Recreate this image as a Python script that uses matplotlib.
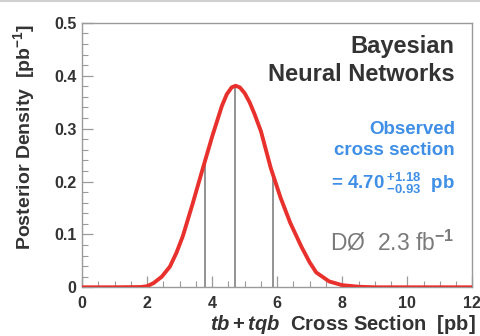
import numpy as np
import matplotlib
matplotlib.use("Agg")
import matplotlib.pyplot as plt
from matplotlib.lines import Line2D
from matplotlib.ticker import MultipleLocator, FixedLocator, FixedFormatter

plt.rcParams["font.family"] = ["Liberation Sans", "DejaVu Sans"]
plt.rcParams["mathtext.fontset"] = "custom"
plt.rcParams["mathtext.rm"] = "Liberation Sans:bold"
plt.rcParams["mathtext.bf"] = "Liberation Sans:bold"
plt.rcParams["mathtext.it"] = "Liberation Sans:italic:bold"

# Posterior density of the tb+tqb cross section
xsec = [0.0, 1.0, 1.8, 2.0, 2.2, 2.45, 2.7, 2.9, 3.1, 3.4, 3.7, 4.0, 4.3,
        4.45, 4.6, 4.72, 4.85, 5.0, 5.15, 5.3, 5.5, 5.8, 6.1, 6.4, 6.75,
        7.0, 7.2, 7.6, 8.0, 8.5, 9.0, 10.0, 12.0]
density = [0.0, 0.0, 0.0005, 0.002, 0.008, 0.02, 0.039, 0.065, 0.097,
           0.158, 0.222, 0.285, 0.343, 0.365, 0.378, 0.381, 0.378, 0.367,
           0.350, 0.328, 0.295, 0.226, 0.17, 0.122, 0.076, 0.047, 0.028,
           0.011, 0.004, 0.001, 0.0, 0.0, 0.0]

# Measured value and interval edges
central = 4.70
err_up = 1.18
err_down = 0.93
markers = [central - err_down, central, central + err_up]

x_ticks = [0, 2, 4, 6, 8, 10, 12]
y_ticks = [0, 0.1, 0.2, 0.3, 0.4, 0.5]
y_tick_labels = ["0", "0.1", "0.2", "0.3", "0.4", "0.5"]

fig = plt.figure(figsize=(4.8, 3.36), dpi=100)
ax = fig.add_axes([0.171, 0.145, 0.813, 0.787])

# thin frame line along the top edge of the figure
fig.add_artist(Line2D([0, 1], [0.996, 0.996], transform=fig.transFigure,
                      color="#d0d0d0", lw=1.5))

ax.plot(xsec, density, color="#e8312c", lw=2.8, solid_capstyle="round",
        solid_joinstyle="round", zorder=3)
for m in markers:
    ax.plot([m, m], [0, np.interp(m, xsec, density)], color="#8a8a8a",
            lw=1.3, zorder=2)

ax.set_xlim(0, 12)
ax.set_ylim(0, 0.5)
ax.xaxis.set_major_locator(FixedLocator(x_ticks))
ax.xaxis.set_minor_locator(MultipleLocator(0.5))
ax.yaxis.set_major_locator(FixedLocator(y_ticks))
ax.yaxis.set_major_formatter(FixedFormatter(y_tick_labels))
ax.yaxis.set_minor_locator(MultipleLocator(0.02))
ax.tick_params(which="both", direction="in", color="#9a9a9a",
               top=False, right=False)
ax.tick_params(which="major", length=8, width=0.9, labelsize=11.5,
               labelcolor="#333333")
ax.tick_params(axis="x", which="major", pad=6)
ax.tick_params(axis="y", which="major", pad=4)
ax.tick_params(which="minor", length=4, width=0.8)
for lab in ax.get_xticklabels() + ax.get_yticklabels():
    lab.set_fontweight("bold")
for s in ax.spines.values():
    s.set_color("#9a9a9a")
    s.set_linewidth(1.0)

ax.set_ylabel(r"Posterior Density  [pb$^{-1}$]", fontsize=14,
              fontweight="bold", color="#333333")
ax.yaxis.set_label_coords(-0.115, 0.568)
fig.text(476 / 480, 1 - 325 / 336, r"$tb+tqb$  Cross Section  [pb]",
         ha="right", va="center", fontsize=14.5, fontweight="bold",
         color="#333333")

ax.text(0.955, 0.955, "Bayesian\nNeural Networks", transform=ax.transAxes,
        ha="right", va="top", fontsize=17, fontweight="bold",
        color="#333333", linespacing=1.3)
ax.text(0.955, 0.63, "Observed\ncross section", transform=ax.transAxes,
        ha="right", va="top", fontsize=13.5, fontweight="bold",
        color="#3f8fe6", linespacing=1.3)
ax.text(0.955, 0.392,
        r"= %.2f$\,^{+%.2f}_{-%.2f}$  pb" % (central, err_up, err_down),
        transform=ax.transAxes, ha="right", va="center", fontsize=13.5,
        fontweight="bold", color="#3f8fe6")
ax.text(0.955, 0.17, r"DØ  2.3 fb$^{-1}$", transform=ax.transAxes,
        ha="right", va="center", fontsize=16.5, color="#7a7a7a")

fig.savefig("out.png", dpi=100)
